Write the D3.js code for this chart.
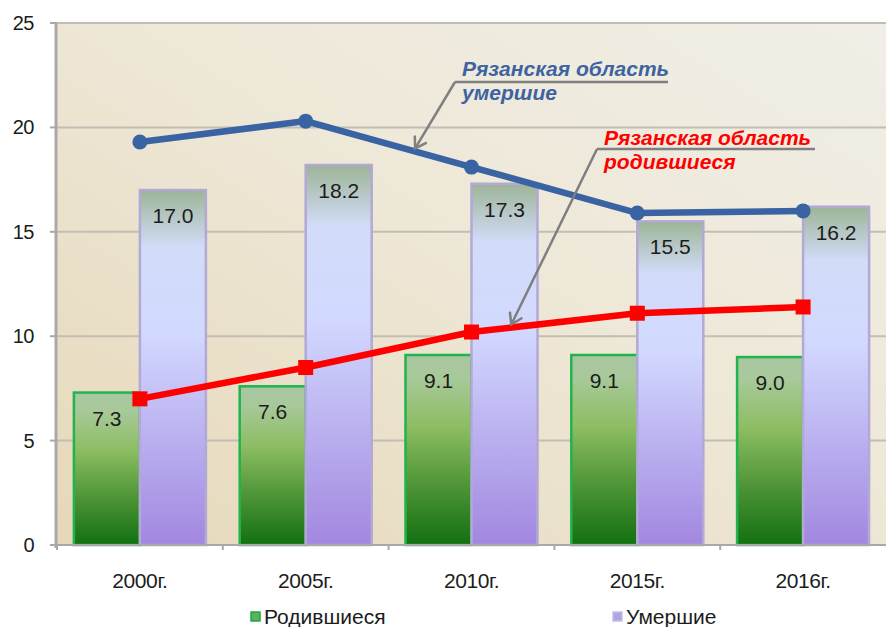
<!DOCTYPE html>
<html lang="ru">
<head>
    <meta charset="UTF-8">
    <title>Рязанская область</title>
    <script src="https://cdn.jsdelivr.net/npm/d3@7"></script>
    <style>
        html, body {
            margin: 0;
            padding: 0;
            background: #ffffff;
            overflow: hidden;
        }
        text {
            font-family: "Liberation Sans", Arial, sans-serif;
        }
    </style>
</head>
<body>
<script>
    // данные
    let years = ['2000г.', '2005г.', '2010г.', '2015г.', '2016г.'];
    let born = [7.3, 7.6, 9.1, 9.1, 9.0];
    let died = [17.0, 18.2, 17.3, 15.5, 16.2];
    let bornRyazan = [7.0, 8.5, 10.2, 11.1, 11.4];
    let diedRyazan = [19.3, 20.3, 18.1, 15.9, 16.0];
    let yTicks = [0, 5, 10, 15, 20, 25];

    let width = 887;
    let height = 627;
    let plotLeft = 57, plotRight = 886, plotTop = 23, plotBottom = 545;

    let svg = d3.select('body')
        .append('svg')
        .attr('width', width)
        .attr('height', height);

    let defs = svg.append('defs');

    // фон области построения
    let bg = defs.append('linearGradient')
        .attr('id', 'bg').attr('x1', 0).attr('y1', 1).attr('x2', 1).attr('y2', 0);
    bg.append('stop').attr('offset', '0%').attr('stop-color', '#e6d8b9');
    bg.append('stop').attr('offset', '55%').attr('stop-color', '#eee8d8');
    bg.append('stop').attr('offset', '100%').attr('stop-color', '#f0eee6');

    let gGreen = defs.append('linearGradient')
        .attr('id', 'green').attr('x1', 0).attr('y1', 0).attr('x2', 0).attr('y2', 1);
    gGreen.append('stop').attr('offset', '0%').attr('stop-color', '#a9c6a2');
    gGreen.append('stop').attr('offset', '12%').attr('stop-color', '#a8c99a');
    gGreen.append('stop').attr('offset', '38%').attr('stop-color', '#8cbd62');
    gGreen.append('stop').attr('offset', '70%').attr('stop-color', '#4b9335');
    gGreen.append('stop').attr('offset', '100%').attr('stop-color', '#127011');

    let gViolet = defs.append('linearGradient')
        .attr('id', 'violet').attr('x1', 0).attr('y1', 0).attr('x2', 0).attr('y2', 1);
    gViolet.append('stop').attr('offset', '0%').attr('stop-color', '#9db497');
    gViolet.append('stop').attr('offset', '16%').attr('stop-color', '#d2dcf8');
    gViolet.append('stop').attr('offset', '40%').attr('stop-color', '#d2d9ff');
    gViolet.append('stop').attr('offset', '100%').attr('stop-color', '#a287e0');

    defs.append('marker')
        .attr('id', 'arrow')
        .attr('viewBox', '-12 -8 14 16')
        .attr('refX', 0).attr('refY', 0)
        .attr('markerWidth', 14).attr('markerHeight', 16)
        .attr('markerUnits', 'userSpaceOnUse')
        .attr('orient', 'auto')
        .append('path')
        .attr('d', 'M-11,-7L0,0L-11,7')
        .attr('fill', 'none')
        .attr('stroke', '#7f7f7f')
        .attr('stroke-width', 2.5);

    // шкалы
    let x = d3.scaleBand().domain(years).range([plotLeft, plotRight]).paddingInner(0).paddingOuter(0);
    let x1 = d3.scaleBand().domain(['born', 'died']).range([0, x.bandwidth()])
        .paddingInner(0).paddingOuter(0.256);
    let y = d3.scaleLinear().domain([0, 25]).range([plotBottom, plotTop]);

    svg.append('rect')
        .attr('x', plotLeft).attr('y', plotTop)
        .attr('width', plotRight - plotLeft).attr('height', plotBottom - plotTop)
        .attr('fill', 'url(#bg)');

    // сетка
    svg.append('g')
        .selectAll('line')
        .data(yTicks.filter(d => d > 0))
        .enter().append('line')
        .attr('x1', plotLeft).attr('x2', plotRight)
        .attr('y1', d => y(d)).attr('y2', d => y(d))
        .attr('stroke', '#c2beb5')
        .attr('stroke-width', 2);

    // столбцы
    let rows = years.map((yr, i) => ({year: yr, born: born[i], died: died[i]}));
    let groups = svg.append('g')
        .selectAll('g')
        .data(rows)
        .enter().append('g')
        .attr('transform', d => `translate(${x(d.year)},0)`);

    groups.append('rect')
        .attr('x', x1('born'))
        .attr('y', d => y(d.born))
        .attr('width', x1.bandwidth())
        .attr('height', d => plotBottom - y(d.born))
        .attr('fill', 'url(#green)')
        .attr('stroke', '#21b34d')
        .attr('stroke-width', 2.5);

    groups.append('rect')
        .attr('x', x1('died'))
        .attr('y', d => y(d.died))
        .attr('width', x1.bandwidth())
        .attr('height', d => plotBottom - y(d.died))
        .attr('fill', 'url(#violet)')
        .attr('stroke', '#b2a9d4')
        .attr('stroke-width', 2.5);

    groups.append('text')
        .attr('x', x1('born') + x1.bandwidth() / 2)
        .attr('y', d => y(d.born) + 33)
        .attr('text-anchor', 'middle')
        .attr('font-size', 21)
        .attr('fill', '#1c1c1c')
        .text(d => d.born.toFixed(1));

    groups.append('text')
        .attr('x', x1('died') + x1.bandwidth() / 2)
        .attr('y', d => y(d.died) + 33)
        .attr('text-anchor', 'middle')
        .attr('font-size', 21)
        .attr('fill', '#1c1c1c')
        .text(d => d.died.toFixed(1));

    // линии области
    let cx = (d, i) => x(years[i]) + x.bandwidth() / 2;
    let line = d3.line().x(cx).y(d => y(d));

    svg.append('path')
        .datum(diedRyazan)
        .attr('d', line)
        .attr('fill', 'none')
        .attr('stroke', '#3a63a3')
        .attr('stroke-width', 6.5);
    svg.append('g')
        .selectAll('circle')
        .data(diedRyazan)
        .enter().append('circle')
        .attr('cx', cx).attr('cy', d => y(d))
        .attr('r', 7.5)
        .attr('fill', '#3a63a3');

    svg.append('path')
        .datum(bornRyazan)
        .attr('d', line)
        .attr('fill', 'none')
        .attr('stroke', '#ff0000')
        .attr('stroke-width', 6.5);
    svg.append('g')
        .selectAll('rect')
        .data(bornRyazan)
        .enter().append('rect')
        .attr('x', (d, i) => cx(d, i) - 7.5).attr('y', d => y(d) - 7.5)
        .attr('width', 15).attr('height', 15)
        .attr('fill', '#ff0000');

    // оси
    svg.append('line')
        .attr('x1', plotLeft).attr('x2', plotRight)
        .attr('y1', plotBottom).attr('y2', plotBottom)
        .attr('stroke', '#a9a9a9').attr('stroke-width', 2);
    svg.append('g')
        .selectAll('line')
        .data(years)
        .enter().append('line')
        .attr('x1', d => x(d)).attr('x2', d => x(d))
        .attr('y1', plotBottom).attr('y2', plotBottom + 5)
        .attr('stroke', '#a9a9a9').attr('stroke-width', 2);
    svg.append('line')
        .attr('x1', plotLeft - 1).attr('x2', plotLeft - 1)
        .attr('y1', plotTop).attr('y2', plotBottom + 3)
        .attr('stroke', '#a9a9a9').attr('stroke-width', 3);
    svg.append('g')
        .selectAll('line')
        .data(yTicks)
        .enter().append('line')
        .attr('x1', plotLeft - 7).attr('x2', plotLeft)
        .attr('y1', d => y(d)).attr('y2', d => y(d))
        .attr('stroke', '#a9a9a9').attr('stroke-width', 2);

    svg.append('g')
        .selectAll('text')
        .data(yTicks)
        .enter().append('text')
        .attr('x', 34)
        .attr('y', d => y(d) + 7)
        .attr('text-anchor', 'end')
        .attr('font-size', 20)
        .attr('letter-spacing', -0.5)
        .attr('fill', '#1c1c1c')
        .text(d => d);

    svg.append('g')
        .selectAll('text')
        .data(years)
        .enter().append('text')
        .attr('x', d => x(d) + x.bandwidth() / 2)
        .attr('y', 588)
        .attr('text-anchor', 'middle')
        .attr('font-size', 21)
        .attr('letter-spacing', -0.4)
        .attr('fill', '#1c1c1c')
        .text(d => d);

    // легенда
    let legend = [
        {label: 'Родившиеся', x: 251, fill: '#5cb25c', stroke: '#1fa64a'},
        {label: 'Умершие', x: 613, fill: '#b0a3e2', stroke: '#c6bde6'}
    ];
    let lg = svg.append('g')
        .selectAll('g')
        .data(legend)
        .enter().append('g')
        .attr('transform', d => `translate(${d.x},612)`);
    lg.append('rect')
        .attr('width', 9).attr('height', 9)
        .attr('fill', d => d.fill)
        .attr('stroke', d => d.stroke)
        .attr('stroke-width', 1.5);
    lg.append('text')
        .attr('x', 13).attr('y', 11.5)
        .attr('font-size', 21)
        .attr('fill', '#1c1c1c')
        .text(d => d.label);

    // подписи-выноски
    let along = (series, i, t) => [
        cx(0, i) + t * (cx(0, i + 1) - cx(0, i)),
        y(series[i]) + t * (y(series[i + 1]) - y(series[i]))
    ];
    let notes = [
        {lines: ['Рязанская область', 'умершие'], color: '#3d63a0', tx: 462, ty: 76,
            ux: [455, 668], uy: 82, tip: along(diedRyazan, 1, 0.66)},
        {lines: ['Рязанская область', 'родившиеся'], color: '#ff0000', tx: 604, ty: 145,
            ux: [597, 815], uy: 149, tip: along(bornRyazan, 2, 0.24)}
    ];
    notes.forEach(n => {
        let g = svg.append('g');
        g.append('line')
            .attr('x1', n.ux[0]).attr('x2', n.ux[1])
            .attr('y1', n.uy).attr('y2', n.uy)
            .attr('stroke', '#7f7f7f').attr('stroke-width', 2.5);
        g.append('line')
            .attr('x1', n.ux[0]).attr('y1', n.uy)
            .attr('x2', n.tip[0]).attr('y2', n.tip[1] - 3)
            .attr('stroke', '#7f7f7f').attr('stroke-width', 2.5)
            .attr('marker-end', 'url(#arrow)');
        g.append('text')
            .attr('x', n.tx).attr('y', n.ty)
            .attr('font-size', 21)
            .attr('font-weight', 'bold')
            .attr('font-style', 'italic')
            .attr('fill', n.color)
            .selectAll('tspan')
            .data(n.lines)
            .enter().append('tspan')
            .attr('x', n.tx)
            .attr('dy', (d, i) => i ? 24 : 0)
            .text(d => d);
    });
</script>
</body>
</html>
